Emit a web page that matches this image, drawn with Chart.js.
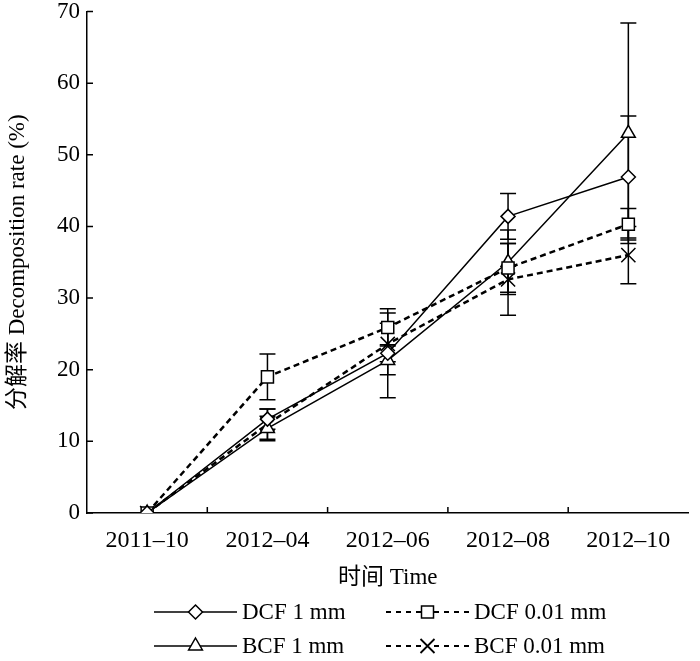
<!DOCTYPE html>
<html><head><meta charset="utf-8">
<script src="https://cdn.jsdelivr.net/npm/chart.js@4"></script>
<style>
html,body{margin:0;padding:0;background:#fff;}
#wrap{position:relative;width:700px;height:661px;}
#legend{position:absolute;left:0;top:0;width:700px;height:661px;pointer-events:none;font-family:"Liberation Serif","Noto Sans CJK SC",serif;font-size:23px;color:#000;}
.item{position:absolute;display:flex;align-items:center;height:28px;line-height:28px;white-space:nowrap;}
.item svg{display:block;margin-right:5px;}
</style></head>
<body><div id="wrap"><canvas id="c" width="700" height="661"></canvas><div id="legend"></div></div>
<script>
const categories = ['2011–10','2012–04','2012–06','2012–08','2012–10'];
const seriesNames = ['DCF 1 mm','DCF 0.01 mm','BCF 1 mm','BCF 0.01 mm'];
const dcf1 = [0, 13.1, 22.3, 41.4, 46.9];
const dcf1Err = [0, 1.4, 1.2, 3.2, 8.5];
const dcf001 = [0, 19.0, 25.9, 34.2, 40.3];
const dcf001Err = [0, 3.2, 2.6, 3.4, 2.2];
const bcf1 = [0, 11.8, 21.3, 35.0, 53.0];
const bcf1Err = [0, 1.7, 5.2, 4.5, 15.4];
const bcf001 = [0, 12.4, 23.6, 32.6, 36.0];
const bcf001Err = [0, 2.1, 4.3, 5.0, 4.0];
const yTicks = [0, 10, 20, 30, 40, 50, 60, 70];

const FONT = "'Liberation Serif','Noto Sans CJK SC',serif";
Chart.defaults.font.family = FONT;
Chart.defaults.font.size = 23;
Chart.defaults.color = '#000';

const errBars = {
  id: 'errBars',
  beforeDatasetsDraw(chart) {
    const ctx = chart.ctx, ys = chart.scales.y;
    chart.data.datasets.forEach((ds, di) => {
      const meta = chart.getDatasetMeta(di);
      ds.errors.forEach((e, i) => {
        if (!e) return;
        const pt = meta.data[i], v = ds.data[i];
        const t = ys.getPixelForValue(v + e), b = ys.getPixelForValue(v - e);
        ctx.save();
        ctx.strokeStyle = '#000'; ctx.lineWidth = 1.5; ctx.setLineDash([]);
        ctx.beginPath();
        ctx.moveTo(pt.x, t); ctx.lineTo(pt.x, b);
        ctx.moveTo(pt.x - 8, t); ctx.lineTo(pt.x + 8, t);
        ctx.moveTo(pt.x - 8, b); ctx.lineTo(pt.x + 8, b);
        ctx.stroke();
        ctx.restore();
      });
    });
  }
};

const inTicks = {
  id: 'inTicks',
  afterDraw(chart) {
    const {ctx, chartArea: a, scales: {x, y}} = chart;
    ctx.save();
    ctx.strokeStyle = '#000'; ctx.lineWidth = 1.5; ctx.setLineDash([]);
    ctx.beginPath();
    y.ticks.forEach(t => { const py = y.getPixelForValue(t.value); ctx.moveTo(a.left, py); ctx.lineTo(a.left + 6, py); });
    for (let i = 0; i < categories.length - 1; i++) {
      const px = (x.getPixelForValue(i) + x.getPixelForValue(i + 1)) / 2;
      ctx.moveTo(px, a.bottom); ctx.lineTo(px, a.bottom - 6);
    }
    ctx.stroke();
    ctx.restore();
  }
};

function mk(label, data, errors, style, radius, dash, width) {
  return {
    label, data, errors,
    borderColor: '#000', backgroundColor: '#fff',
    borderWidth: width, borderDash: dash,
    pointStyle: style, pointRadius: radius, pointHoverRadius: radius,
    pointBorderColor: '#000', pointBackgroundColor: '#fff', pointBorderWidth: 1.5,
    tension: 0, fill: false
  };
}

new Chart(document.getElementById('c'), {
  type: 'line',
  data: {
    labels: categories,
    datasets: [
      mk(seriesNames[0], dcf1, dcf1Err, 'rectRot', 7, [], 1.5),
      mk(seriesNames[1], dcf001, dcf001Err, 'rect', 8.5, [6, 4], 2.5),
      mk(seriesNames[2], bcf1, bcf1Err, 'triangle', 8, [], 1.5),
      mk(seriesNames[3], bcf001, bcf001Err, 'crossRot', 10, [6, 4], 2.5)
    ]
  },
  options: {
    responsive: false,
    animation: false,
    layout: { padding: { top: 0, right: 2, left: 0, bottom: 68 } },
    plugins: { legend: { display: false }, tooltip: { enabled: false } },
    scales: {
      x: {
        type: 'category', offset: true,
        grid: { display: false, drawTicks: false, offset: true },
        border: { display: true, color: '#000', width: 1.5 },
        ticks: { padding: 13, maxRotation: 0, autoSkip: false, font: { size: 24 } },
        title: { display: true, text: '时间 Time', padding: { top: 0, bottom: 1 } },
        afterFit(s) { s.height = 80; }
      },
      y: {
        min: 0, max: 70,
        grid: { display: false, drawTicks: false },
        border: { display: true, color: '#000', width: 1.5 },
        ticks: { padding: 7, font: { lineHeight: 1.0 } },
        afterBuildTicks(s) { s.ticks = yTicks.map(v => ({ value: v })); },
        title: { display: true, text: '分解率 Decomposition rate (%)', padding: { top: 4, bottom: 0 } },
        afterFit(s) { s.width = 87; s.paddingTop = 11; s.paddingBottom = 0; }
      }
    }
  },
  plugins: [errBars, inTicks]
});

// Legend (HTML)
const samples = {
  'DCF 1 mm': '<line x1="0" y1="10" x2="83" y2="10" stroke="#000" stroke-width="1.5"/><polygon points="41.5,3 48.5,10 41.5,17 34.5,10" fill="#fff" stroke="#000" stroke-width="1.5"/>',
  'BCF 1 mm': '<line x1="0" y1="10" x2="83" y2="10" stroke="#000" stroke-width="1.5"/><polygon points="41.5,2 48.4,14 34.6,14" fill="#fff" stroke="#000" stroke-width="1.5"/>',
  'DCF 0.01 mm': '<line x1="0" y1="10" x2="35" y2="10" stroke="#000" stroke-width="2" stroke-dasharray="5,5"/><line x1="48" y1="10" x2="83" y2="10" stroke="#000" stroke-width="2" stroke-dasharray="5,5"/><rect x="35.5" y="4" width="12" height="12" fill="#fff" stroke="#000" stroke-width="1.5"/>',
  'BCF 0.01 mm': '<line x1="0" y1="10" x2="35" y2="10" stroke="#000" stroke-width="2" stroke-dasharray="5,5"/><line x1="48" y1="10" x2="83" y2="10" stroke="#000" stroke-width="2" stroke-dasharray="5,5"/><path d="M34.5,3 L48.5,17 M48.5,3 L34.5,17" stroke="#000" stroke-width="1.8"/>'
};
const legendPos = [
  { name: seriesNames[0], left: 154, cy: 612 },
  { name: seriesNames[1], left: 386, cy: 612 },
  { name: seriesNames[2], left: 154, cy: 646 },
  { name: seriesNames[3], left: 386, cy: 646 }
];
const lg = document.getElementById('legend');
legendPos.forEach(p => {
  const d = document.createElement('div');
  d.className = 'item';
  d.style.left = p.left + 'px';
  d.style.top = (p.cy - 14) + 'px';
  d.innerHTML = '<svg width="83" height="20" viewBox="0 0 83 20">' + samples[p.name] + '</svg><span>' + p.name + '</span>';
  lg.appendChild(d);
});
</script>
</body></html>
